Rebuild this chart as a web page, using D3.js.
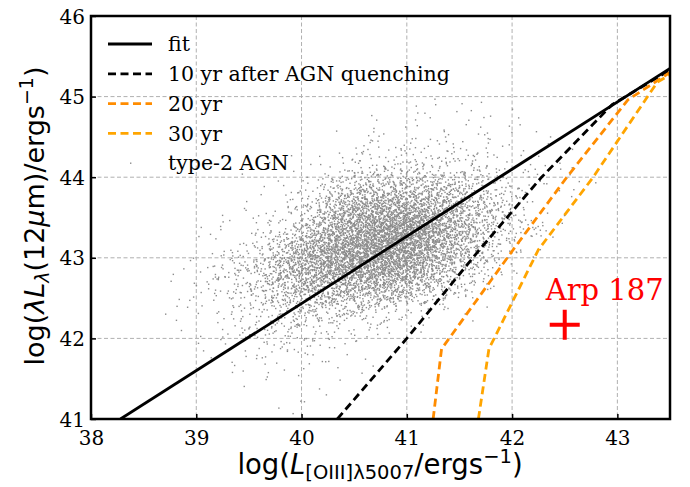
<!DOCTYPE html>
<html>
<head>
<meta charset="utf-8">
<script src="https://cdn.jsdelivr.net/npm/d3@7"></script>
<style>
  body { margin: 0; background: #fff; }
  svg { display: block; }
</style>
</head>
<body>
<div id="chart"></div>
<script>
// axis ticks
const xTicks = [38, 39, 40, 41, 42, 43];
const yTicks = [41, 42, 43, 44, 45, 46];

// fit relation and quenching tracks (log L_OIII, log lambda L_12um)
const fitLine = [[38.28, 41.0], [43.5, 45.35]];
const track10 = [[40.34, 41.0], [41.0, 42.0], [41.69, 43.1], [42.28, 44.0], [42.95, 44.9], [43.5, 45.33]];
const track20 = [[41.25, 41.0], [41.33, 41.87], [42.01, 43.1], [42.52, 44.0], [43.1, 44.96], [43.5, 45.3]];
const track30 = [[41.68, 41.0], [41.78, 41.87], [42.25, 43.1], [42.77, 44.0], [43.38, 45.18], [43.5, 45.27]];

// Arp 187
const arp187 = [42.5, 42.17];

const cellX = [38.5, 38.75, 39.0, 39.25, 39.5, 39.75, 40.0, 40.25, 40.5, 40.75, 41.0, 41.25, 41.5, 41.75, 42.0, 42.25, 42.5, 42.75];
const cellY = [44.75, 44.5, 44.25, 44.0, 43.75, 43.5, 43.25, 43.0, 42.75, 42.5, 42.25, 42.0, 41.75, 41.5, 41.25, 41.0];
const cellLevel = [
  [0,0,0,0,0,0,0,0,0,0,1,1,1,1,0,0,0,0],
  [0,0,0,0,0,0,0,0,1,1,1,1,1,1,1,0,0,0],
  [0,0,0,0,0,0,0,1,2,2,2,2,2,1,1,1,0,0],
  [0,0,0,0,0,1,1,2,3,3,3,3,3,2,2,1,1,0],
  [0,0,0,0,1,1,2,4,5,5,5,5,4,3,2,1,1,0],
  [0,0,0,1,1,2,4,6,7,7,7,6,5,4,2,1,0,0],
  [0,0,1,1,2,3,5,7,8,9,9,7,5,4,3,1,0,0],
  [0,0,1,2,3,5,7,8,9,9,8,6,5,3,1,0,0,0],
  [0,1,2,3,4,6,7,8,8,8,7,5,4,2,1,0,0,0],
  [0,1,2,3,4,5,6,6,6,6,5,4,2,1,0,0,0,0],
  [0,1,1,2,3,4,4,4,4,3,2,1,1,0,0,0,0,0],
  [0,1,1,2,3,3,3,2,2,1,1,0,0,0,0,0,0,0],
  [0,0,1,1,2,2,2,1,1,0,0,0,0,0,0,0,0,0],
  [0,0,0,1,1,1,1,1,0,0,0,0,0,0,0,0,0,0],
  [0,0,0,0,1,0,1,0,0,0,0,0,0,0,0,0,0,0],
  [0,0,0,0,0,1,0,0,0,0,0,0,0,0,0,0,0,0]
];
const levelCount = [0, 3, 10, 25, 50, 90, 140, 200, 260, 330];

const legendItems = ["fit", "10 yr after AGN quenching", "20 yr", "30 yr", "type-2 AGN"];

const W = 690, H = 487;
const margin = {top: 16, right: 20, bottom: 68, left: 91};
const w = W - margin.left - margin.right;
const h = H - margin.top - margin.bottom;
const serif = "DejaVu Serif, serif";
const sans = "DejaVu Sans, sans-serif";

const svg = d3.select("#chart").append("svg")
  .attr("width", W).attr("height", H);

const g = svg.append("g")
  .attr("transform", `translate(${margin.left},${margin.top})`);

const x = d3.scaleLinear().domain([38, 43.5]).range([0, w]);
const y = d3.scaleLinear().domain([41, 46]).range([h, 0]);

svg.append("clipPath").attr("id", "clip")
  .append("rect").attr("width", w).attr("height", h);

// grid
g.append("g").selectAll("line").data(xTicks.slice(1)).enter().append("line")
  .attr("x1", d => x(d)).attr("x2", d => x(d)).attr("y1", 0).attr("y2", h)
  .attr("stroke", "#b0b0b0").attr("stroke-width", 1).attr("stroke-dasharray", "4,2.5");
g.append("g").selectAll("line").data(yTicks.slice(1, -1)).enter().append("line")
  .attr("y1", d => y(d)).attr("y2", d => y(d)).attr("x1", 0).attr("x2", w)
  .attr("stroke", "#b0b0b0").attr("stroke-width", 1).attr("stroke-dasharray", "4,2.5");

// scatter cloud: each density cell is spread with a tent kernel,
// positions taken from a fixed Halton sequence (no randomness)
function halton(i, b) {
  let f = 1, r = 0;
  while (i > 0) { f /= b; r += f * (i % b); i = Math.floor(i / b); }
  return r;
}
const pts = [];
let n = 0;
cellY.forEach((y0, r) => {
  cellX.forEach((x0, c) => {
    const cnt = levelCount[cellLevel[r][c]];
    for (let k = 0; k < cnt; k++) {
      n++;
      pts.push([x0 + 0.125 + (halton(n, 2) + halton(n, 3) - 1) * 0.25,
                y0 + 0.125 + (halton(n, 5) + halton(n, 7) - 1) * 0.25]);
    }
  });
});

const plot = g.append("g").attr("clip-path", "url(#clip)");
plot.append("g").selectAll("rect").data(pts).enter().append("rect")
  .attr("x", d => x(d[0]) - 0.7).attr("y", d => y(d[1]) - 0.7)
  .attr("width", 1.4).attr("height", 1.4)
  .attr("fill", "#8c8c8c");

const line = d3.line().x(d => x(d[0])).y(d => y(d[1]));

const tracks = [
  {data: fitLine, color: "#000", dash: null},
  {data: track10, color: "#000", dash: "8,4.5"},
  {data: track20, color: "darkorange", dash: "8,4.5"},
  {data: track30, color: "orange", dash: "8,4.5"}
];
plot.selectAll("path.track").data(tracks).enter().append("path")
  .attr("class", "track")
  .attr("d", d => line(d.data))
  .attr("fill", "none")
  .attr("stroke", d => d.color)
  .attr("stroke-width", 2.8)
  .attr("stroke-dasharray", d => d.dash);

// Arp 187 marker
const ax = x(arp187[0]), ay = y(arp187[1]);
g.append("path")
  .attr("d", `M${ax - 15},${ay}H${ax + 15}M${ax},${ay - 15}V${ay + 15}`)
  .attr("stroke", "red").attr("stroke-width", 4).attr("fill", "none");
g.append("text")
  .attr("x", x(42.88)).attr("y", y(42.48))
  .attr("text-anchor", "middle")
  .attr("font-family", serif).attr("font-size", 29)
  .attr("fill", "red")
  .text("Arp 187");

// axes
const xAxis = g.append("g").attr("transform", `translate(0,${h})`)
  .call(d3.axisBottom(x).tickValues(xTicks).tickFormat(d3.format("d"))
    .tickSizeInner(-5).tickSizeOuter(0).tickPadding(9));
const yAxis = g.append("g")
  .call(d3.axisLeft(y).tickValues(yTicks).tickFormat(d3.format("d"))
    .tickSizeInner(-5).tickSizeOuter(0).tickPadding(6));
[xAxis, yAxis].forEach(a => {
  a.attr("font-family", serif);
  a.select(".domain").remove();
  a.selectAll(".tick line").attr("stroke", "#000").attr("stroke-width", 1.5);
  a.selectAll(".tick text").attr("font-size", 20).attr("font-family", serif).attr("fill", "#000");
});
xAxis.selectAll(".tick text").attr("dy", "0.85em");
yAxis.selectAll(".tick text").attr("dy", "0.35em");

g.append("rect").attr("width", w).attr("height", h)
  .attr("fill", "none").attr("stroke", "#000").attr("stroke-width", 2.5);

// legend
const leg = g.append("g").attr("transform", "translate(17,28)");
legendItems.forEach((t, i) => {
  const yy = i * 29.8;
  if (i < 4) {
    leg.append("line")
      .attr("x1", 0).attr("x2", 44).attr("y1", yy).attr("y2", yy)
      .attr("stroke", tracks[i].color).attr("stroke-width", 2.8)
      .attr("stroke-dasharray", tracks[i].dash);
  } else {
    leg.append("rect").attr("x", 22).attr("y", yy - 0.7)
      .attr("width", 1.4).attr("height", 1.4).attr("fill", "#8c8c8c");
  }
  leg.append("text")
    .attr("x", 60).attr("y", yy).attr("dy", "0.35em")
    .attr("font-family", serif).attr("font-size", 20.5)
    .text(t);
});

// axis titles
const xl = svg.append("text")
  .attr("x", 380).attr("y", 474)
  .attr("text-anchor", "middle")
  .attr("font-family", sans).attr("font-size", 27.5);
xl.append("tspan").text("log(");
xl.append("tspan").attr("font-style", "italic").text("L");
xl.append("tspan").attr("font-size", 19.5).attr("dy", 5).text("[OIII]λ5007");
xl.append("tspan").attr("dy", -5).text("/ergs");
xl.append("tspan").attr("font-size", 19.5).attr("dy", -11).text("−1");
xl.append("tspan").attr("dy", 11).text(")");

const yl = svg.append("text")
  .attr("transform", `translate(44,216) rotate(-90)`)
  .attr("text-anchor", "middle")
  .attr("font-family", sans).attr("font-size", 27);
yl.append("tspan").text("log(");
yl.append("tspan").attr("font-style", "italic").text("λL");
yl.append("tspan").attr("font-style", "italic").attr("font-size", 19).attr("dy", 5).text("λ");
yl.append("tspan").attr("dy", -5).text("(12");
yl.append("tspan").attr("font-style", "italic").text("μ");
yl.append("tspan").text("m)/ergs");
yl.append("tspan").attr("font-size", 19).attr("dy", -11).text("−1");
yl.append("tspan").attr("dy", 11).text(")");
</script>
</body>
</html>
